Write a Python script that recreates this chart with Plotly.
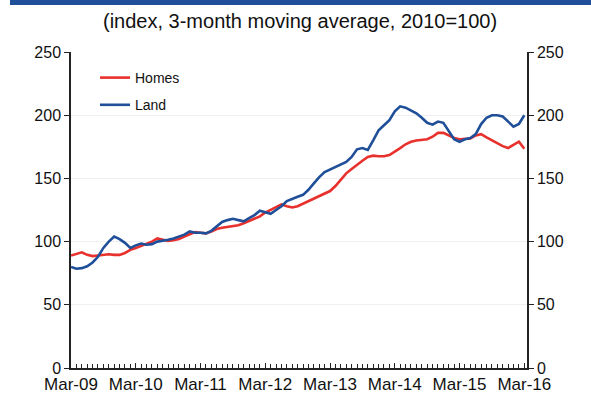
import plotly.graph_objects as go

months = list(range(85))  # Mar-09 .. Mar-16, monthly
tick_pos = [0, 12, 24, 36, 48, 60, 72, 84]
tick_labels = ["Mar-09", "Mar-10", "Mar-11", "Mar-12", "Mar-13", "Mar-14", "Mar-15", "Mar-16"]

homes = [89, 90, 91.5, 89.5, 88.5, 89, 89.5, 90, 89.5, 89.5, 91, 93.5,
         95, 96.5, 98, 100, 102.5, 101.5, 100.5, 101, 102, 104, 106, 107.5,
         107, 106.5, 108, 110, 111, 111.5, 112, 113, 114.5, 116.5, 118.5, 120,
         123, 125, 127.5, 129.5, 128, 127, 128, 130, 132, 134, 136, 137.5,
         140, 144, 149, 154, 157.5, 161, 164, 167, 168, 167.5, 167.5, 168.5,
         171, 174, 177, 179, 180, 180.5, 181, 183, 186, 186, 184, 182,
         181, 181, 181.5, 184, 185, 182.5, 180, 177.5, 175.5, 174, 176.5, 179,
         173.5]

land = [80, 78.5, 79, 80.5, 83.5, 88, 95, 100, 104, 102, 99, 95,
        97, 98.5, 97.5, 98, 100, 100.5, 101.5, 102.5, 104, 105.5, 108, 107,
        107, 106.5, 108.5, 112, 115.5, 117, 118, 117, 116, 118.5, 121, 124.5,
        123, 122, 125, 128, 132, 134, 135.5, 137, 141, 146, 151, 155,
        157, 159, 161, 163, 167, 173, 174, 172.5, 180, 188, 192, 196,
        203, 207, 206, 204, 201.5, 198, 194, 192.5, 195, 194, 188, 181,
        179, 181, 182, 185, 193, 198, 200, 200, 199, 195, 191, 193,
        200]

font_family = "Liberation Sans, Arial, sans-serif"

W, H = 591, 400
ML, MR, MT, MB = 71, 64, 52, 32
PW, PH = W - ML - MR, H - MT - MB

fig = go.Figure()
fig.add_trace(go.Scatter(x=months, y=homes, name="Homes", mode="lines",
                         legendgroup="h",
                         line=dict(color="#e8302c", width=2.6)))
fig.add_trace(go.Scatter(x=months, y=land, name="Land", mode="lines",
                         legendgroup="l",
                         line=dict(color="#1f4f99", width=2.6)))
# invisible trace to drive right axis
fig.add_trace(go.Scatter(x=[0], y=[0], yaxis="y2", mode="lines",
                         line=dict(width=0), showlegend=False, hoverinfo="skip"))

fig.update_layout(
    width=W, height=H,
    margin=dict(l=ML, r=MR, t=MT, b=MB, autoexpand=False),
    paper_bgcolor="white", plot_bgcolor="white",
    font=dict(family=font_family, size=16, color="#111"),
    showlegend=True,
    legend=dict(x=(95 - ML) / PW, y=1 - (62 - MT) / PH, xanchor="left", yanchor="top",
                bgcolor="rgba(0,0,0,0)", font=dict(size=14),
                itemwidth=30, tracegroupgap=6),
    xaxis=dict(range=[0, 84.5], tickvals=tick_pos, ticktext=tick_labels,
               automargin=False,
               showline=True, linecolor="#222", linewidth=1.5,
               ticks="inside", ticklen=5, tickcolor="#222",
               minor=dict(dtick=1, ticks="inside", ticklen=4, tickcolor="#222"),
               showgrid=False, zeroline=False, tickfont=dict(size=17)),
    yaxis=dict(range=[0, 250], dtick=50, showline=True, linecolor="#222",
               automargin=False,
               linewidth=1.5, ticks="outside", ticklen=5, tickcolor="#222",
               showgrid=True, gridcolor="#efefef", gridwidth=1,
               zeroline=False, tickfont=dict(size=16)),
    yaxis2=dict(range=[0, 250], dtick=50, overlaying="y", side="right",
                automargin=False,
                showline=True, linecolor="#222", linewidth=1.5,
                ticks="outside", ticklen=5, tickcolor="#222",
                showgrid=False, zeroline=False, tickfont=dict(size=16)),
    annotations=[dict(text="(index, 3-month moving average, 2010=100)",
                      xref="paper", yref="paper", x=(300 - ML) / PW,
                      y=1 + (MT - 21) / PH, xanchor="center", yanchor="middle",
                      showarrow=False, font=dict(size=20, color="#111"))],
    shapes=[dict(type="rect", xref="paper", yref="paper",
                 x0=(10 - ML) / PW, x1=(W + 5 - ML) / PW,
                 y0=1 + (MT - 5) / PH, y1=1 + (MT + 2) / PH,
                 fillcolor="#1f4f99", line=dict(width=0), layer="above")],
)

fig.write_html("out.html",
               config={"displayModeBar": False},
               post_script="document.body.style.margin='0';document.body.style.padding='0';")
